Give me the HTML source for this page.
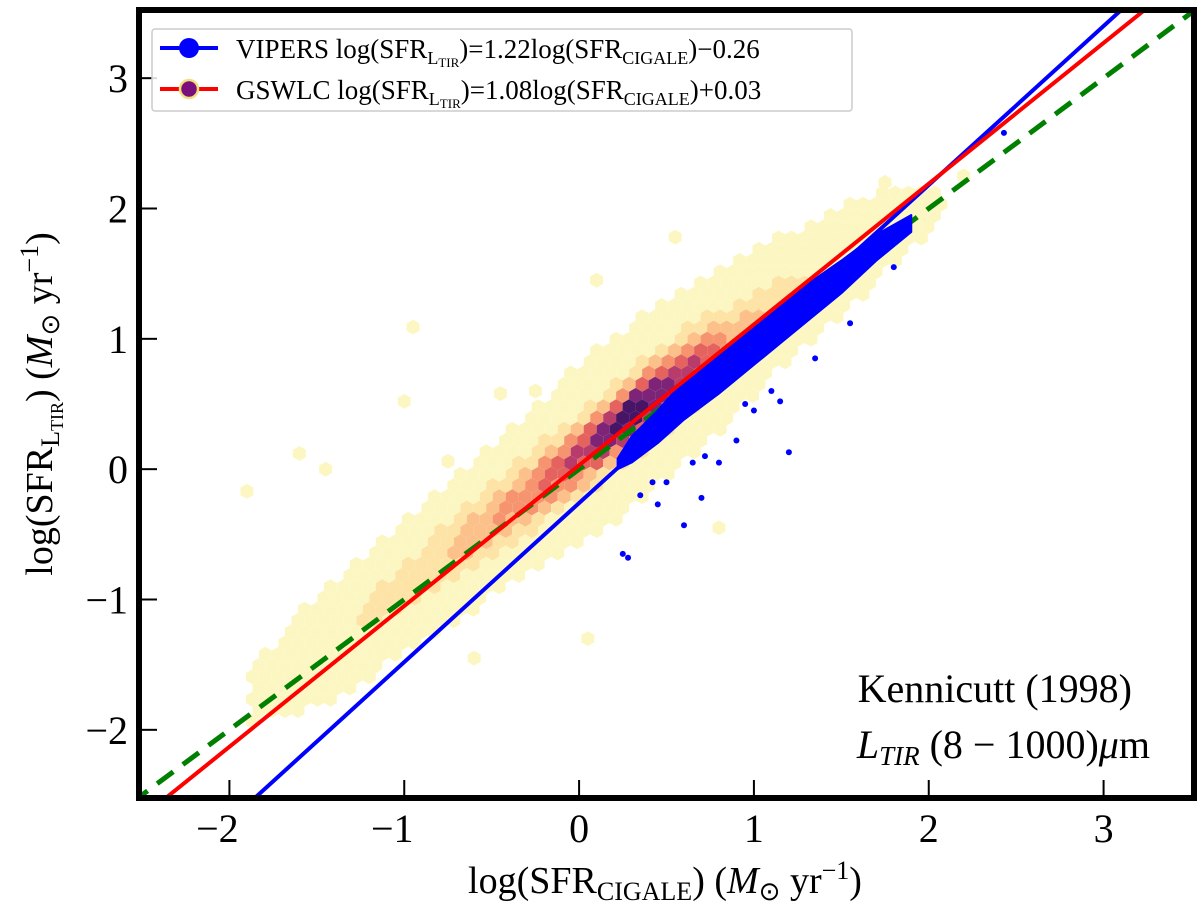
<!DOCTYPE html>
<html><head><meta charset="utf-8">
<style>
html,body{margin:0;background:#fff;overflow:hidden;width:1200px;height:915px;}
svg{display:block;}
svg text{font-family:"Liberation Serif",serif;fill:#000;}
</style></head>
<body>
<svg id="chart" width="1200" height="915" xmlns="http://www.w3.org/2000/svg">
<defs><clipPath id="plotclip"><rect x="142" y="13" width="1049" height="782"/></clipPath></defs>
<g id="plot" clip-path="url(#plotclip)"></g>
<rect x="139" y="10" width="1055" height="788" fill="none" stroke="#000" stroke-width="6"/>
<g id="axes"></g>
<g>
<rect x="152" y="29" width="700" height="82" fill="#fff" fill-opacity="0.85" stroke="#ccc" stroke-width="1.5" rx="3"/>
<g>
<line x1="160" y1="48" x2="218" y2="48" stroke="#0000ff" stroke-width="4"/>
<circle cx="189" cy="48" r="10" fill="#0000ff"/>
<text x="236" y="58" font-size="27">VIPERS log(SFR<tspan font-size="18" dy="6">L</tspan><tspan font-size="13" dy="3">TIR</tspan><tspan dy="-9">)=1.22log(SFR</tspan><tspan font-size="18" dy="6">CIGALE</tspan><tspan dy="-6">)−0.26</tspan></text>
</g>
<g>
<line x1="160" y1="89" x2="218" y2="89" stroke="#ff0000" stroke-width="4"/>
<circle cx="189" cy="89" r="9" fill="#7b0f7b" stroke="#f0e080" stroke-width="2.5"/>
<text x="236" y="99" font-size="27">GSWLC log(SFR<tspan font-size="18" dy="6">L</tspan><tspan font-size="13" dy="3">TIR</tspan><tspan dy="-9">)=1.08log(SFR</tspan><tspan font-size="18" dy="6">CIGALE</tspan><tspan dy="-6">)+0.03</tspan></text>
</g>
</g>
<text x="1132" y="702" font-size="40" text-anchor="end">Kennicutt (1998)</text>
<text x="1150" y="758" font-size="40" text-anchor="end"><tspan font-style="italic">L</tspan><tspan font-size="27" dy="7" font-style="italic">TIR</tspan><tspan dy="-7"> (8 − 1000)</tspan><tspan font-style="italic">μ</tspan>m</text>
<text x="665" y="893" font-size="38" text-anchor="middle">log(SFR<tspan font-size="26" dy="7">CIGALE</tspan><tspan dy="-7">) (</tspan><tspan font-style="italic">M</tspan><tspan font-size="26" dy="7">⊙</tspan><tspan dy="-7"> yr</tspan><tspan font-size="26" dy="-14">−1</tspan><tspan dy="14">)</tspan></text>
<text transform="translate(52,404) rotate(-90)" font-size="38" text-anchor="middle">log(SFR<tspan font-size="26" dy="7">L</tspan><tspan font-size="18" dy="4">TIR</tspan><tspan dy="-11">) (</tspan><tspan font-style="italic">M</tspan><tspan font-size="26" dy="7">⊙</tspan><tspan dy="-7"> yr</tspan><tspan font-size="26" dy="-14">−1</tspan><tspan dy="14">)</tspan></text>
</svg>
<script>
// ---- data ----
const xTicks = [-2, -1, 0, 1, 2, 3];
const yTicks = [-2, -1, 0, 1, 2, 3];
const tickLabels = ["−2", "−1", "0", "1", "2", "3"];
// GSWLC hexbin density profile (read per x-bin)
const densX    = [-1.9, -1.6, -1.2, -0.8, -0.4, 0.0, 0.3, 0.6, 0.9, 1.2, 1.5, 1.8, 2.1];
const densC    = [-1.75, -1.5, -1.1, -0.7, -0.3, 0.1, 0.42, 0.72, 1.02, 1.32, 1.6, 1.85, 2.05];
const densExt  = [0.2, 0.4, 0.5, 0.55, 0.6, 0.7, 0.72, 0.68, 0.6, 0.5, 0.42, 0.3, 0.12];
const densPeak = [0.0, 0.05, 0.1, 0.2, 0.38, 0.62, 0.95, 0.7, 0.3, 0.12, 0.05, 0.02, 0.0];
const outHexX = [-1.9, -1.6, -1.45, -1.0, -0.95, -0.75, -0.45, -0.25, -0.6, 0.55, 0.1, 1.75, 2.2, 0.8, 0.05];
const outHexY = [-0.17, 0.12, 0.0, 0.52, 1.09, 0.06, 0.58, 0.6, -1.45, 1.78, 1.45, 2.2, 2.25, -0.45, -1.3];
// VIPERS dense band
const vipX  = [0.22, 0.3, 0.45, 0.6, 0.8, 1.0, 1.2, 1.5, 1.7, 1.9];
const vipLo = [0.0, 0.05, 0.2, 0.38, 0.58, 0.8, 1.02, 1.35, 1.6, 1.82];
const vipHi = [0.08, 0.25, 0.45, 0.68, 0.9, 1.1, 1.32, 1.6, 1.8, 1.95];
const vipOutX = [0.25, 0.28, 0.6, 0.45, 0.7, 1.2, 2.43, 0.42, 0.9, 1.15, 0.8, 1.0, 0.5, 0.65, 1.35, 1.55, 0.35, 0.72, 1.1, 1.8, 0.95];
const vipOutY = [-0.65, -0.68, -0.43, -0.27, -0.22, 0.13, 2.58, -0.1, 0.22, 0.52, 0.05, 0.45, -0.1, 0.05, 0.85, 1.12, -0.2, 0.1, 0.6, 1.55, 0.5];
// fit lines
const fitNames = ["vipers-fit-line", "gswlc-fit-line"];
const fitSlope = [1.22, 1.08];
const fitInter = [-0.26, 0.03];
const fitColor = ["#0000ff", "#ff0000"];

// ---- scales ----
const X0 = 142, X1 = 1191, Y0 = 795, Y1 = 13;
const xmin = -2.5, xmax = 3.5, ymin = -2.5, ymax = 3.5;
const sx = v => X0 + (v - xmin) / (xmax - xmin) * (X1 - X0);
const sy = v => Y0 - (v - ymin) / (ymax - ymin) * (Y0 - Y1);
const NS = "http://www.w3.org/2000/svg";
const plot = document.getElementById('plot');
const axes = document.getElementById('axes');
function mk(tag, attrs, parent) { const e = document.createElementNS(NS, tag); for (const k in attrs) e.setAttribute(k, attrs[k]); parent.appendChild(e); return e; }
function interp(xs, ys, x) {
  if (x <= xs[0]) return ys[0];
  if (x >= xs[xs.length - 1]) return ys[ys.length - 1];
  for (let i = 0; i < xs.length - 1; i++) if (x <= xs[i + 1]) { const t = (x - xs[i]) / (xs[i + 1] - xs[i]); return ys[i] + t * (ys[i + 1] - ys[i]); }
}
const cmap = ["#fcf7c2", "#fde3a6", "#fcc08a", "#f79470", "#e4635e", "#b73c6c", "#7d2479", "#471466", "#1a0a30"];
function color(d) { const i = Math.min(cmap.length - 1, Math.floor(d * (cmap.length - 1) + 0.3)); return cmap[i]; }

// ---- hexbin ----
const hexGroup = mk('g', {}, plot);


const hr = 7.5, hdx = hr * Math.sqrt(3), hdy = hr * 1.5;
function hexPath(cx, cy) { let p = ""; for (let k = 0; k < 6; k++) { const a = Math.PI / 6 + k * Math.PI / 3; p += (k ? "L" : "M") + (cx + hr * Math.cos(a)).toFixed(1) + "," + (cy + hr * Math.sin(a)).toFixed(1); } return p + "Z"; }
let row = 0;
for (let py = Y1; py < Y0 + hr; py += hdy, row++) {
  for (let px = X0 + (row % 2 ? hdx / 2 : 0); px < X1; px += hdx) {
    const xv = xmin + (px - X0) / (X1 - X0) * (xmax - xmin);
    const yv = ymin + (Y0 - py) / (Y0 - Y1) * (ymax - ymin);
    if (xv < densX[0] || xv > densX[densX.length - 1]) continue;
    const c = interp(densX, densC, xv), ext = interp(densX, densExt, xv), pk = interp(densX, densPeak, xv);
    const dy = yv - c;
    if (Math.abs(dy) > ext) continue;
    const d = pk * Math.exp(-0.5 * (dy / 0.17) ** 2);
    const h = mk('path', { d: hexPath(px, py), fill: color(d) }, hexGroup);
    
    
  }
}
outHexX.forEach((xv, i) => {
  const h = mk('path', { d: hexPath(sx(xv), sy(outHexY[i])), fill: cmap[0] }, hexGroup);
  
  
});

// ---- y = x reference ----
const ref = mk('line', { x1: sx(-3), y1: sy(-3), x2: sx(4), y2: sy(4), stroke: "#008000", "stroke-width": 5, "stroke-dasharray": "20,12" }, plot);



// ---- VIPERS points ----
const vg = mk('g', {}, plot);


let pts = vipX.map((x, i) => sx(x) + "," + sy(vipHi[i])).join(" ") + " " + vipX.slice().reverse().map((x, i) => sx(x) + "," + sy(vipLo[vipLo.length - 1 - i])).join(" ");
const band = mk('polygon', { points: pts, fill: "#0000ff", stroke: "#0000ff", "stroke-width": 2, "stroke-linejoin": "round" }, vg);


vipOutX.forEach((x, i) => {
  const c = mk('circle', { cx: sx(x), cy: sy(vipOutY[i]), r: 3, fill: "#0000ff" }, vg);
  
  
});

// ---- fit lines ----
fitSlope.forEach((m, i) => {
  const l = mk('line', { x1: sx(-3), y1: sy(m * -3 + fitInter[i]), x2: sx(4), y2: sy(m * 4 + fitInter[i]), stroke: fitColor[i], "stroke-width": 4 }, plot);
  
  
});

// ---- ticks ----
xTicks.forEach((t, i) => {
  const l = mk('line', { x1: sx(t), y1: Y0, x2: sx(t), y2: Y0 - 15, stroke: "#000", "stroke-width": 2 }, axes);
  
  
  const tx = mk('text', { x: sx(t) - (t < 0 ? 12 : 0), y: 842, "font-size": 40, "text-anchor": "middle" }, axes);
  tx.textContent = tickLabels[i];
  
  
});
yTicks.forEach((t, i) => {
  const l = mk('line', { x1: X0, y1: sy(t), x2: X0 + 15, y2: sy(t), stroke: "#000", "stroke-width": 2 }, axes);
  
  
  const tx = mk('text', { x: 128, y: sy(t) + 14, "font-size": 40, "text-anchor": "end" }, axes);
  tx.textContent = tickLabels[i];
  
  
});
</script>
</body></html>
